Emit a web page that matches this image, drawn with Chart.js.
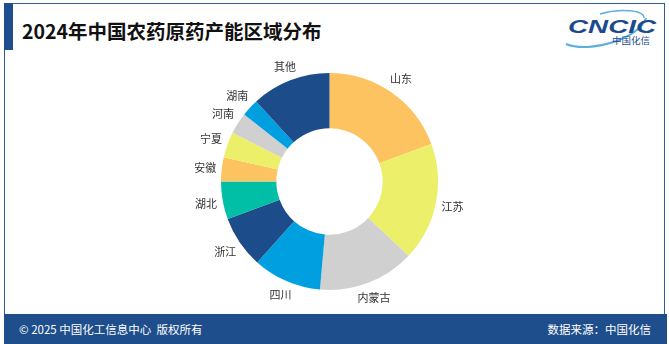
<!DOCTYPE html>
<html>
<head>
<meta charset="utf-8">
<script src="https://cdn.jsdelivr.net/npm/chart.js@4"></script>
<style>
    body { margin: 0; background: #fff; font-family: "Noto Sans CJK SC", "Noto Sans", sans-serif; }
    #page { position: relative; width: 669px; height: 344px; overflow: hidden; }
    #frame { position: absolute; left: 4px; top: 3px; width: 659px; height: 320px; border: 1px solid #2d5b9c; border-bottom: none; }
    #bar { position: absolute; left: 4px; top: 3px; width: 9px; height: 47px; background: #1f4e8c; }
    #title { position: absolute; left: 22px; top: 16px; font-size: 19.5px; font-weight: bold; color: #111; line-height: 29px; white-space: nowrap; }
    #logo { position: absolute; left: 560px; top: 8px; width: 100px; height: 42px; }
    #footer { position: absolute; left: 4px; top: 314px; width: 663px; height: 30px; background: #1f4e8c; color: #fff; font-size: 11.5px; }
    #footer .left { position: absolute; left: 15px; top: 7px; }
    #footer .right { position: absolute; right: 16px; top: 7px; }
    #chartBox { position: absolute; left: 0; top: 0; width: 669px; height: 344px; }
</style>
</head>
<body>
<div id="page">
    <div id="frame"></div>
    <div id="bar"></div>
    <div id="title">2024年中国农药原药产能区域分布</div>
    <svg id="logo" viewBox="0 0 100 42">
        <path d="M6 36 C 30 46, 80 30, 86 10" fill="none" stroke="#5aaee0" stroke-width="2"/>
        <path d="M40 6 C 60 0, 84 2, 84 10" fill="none" stroke="#5aaee0" stroke-width="1.5"/>
        <text x="8" y="25" font-family="Liberation Sans, sans-serif" font-size="19" font-weight="bold" font-style="italic" fill="#1b4b8b" textLength="88" lengthAdjust="spacingAndGlyphs">CNCIC</text>
        <text x="52" y="36" font-family="Noto Sans CJK SC" font-size="9" fill="#1b4b8b" textLength="38" lengthAdjust="spacingAndGlyphs">中国化信</text>
    </svg>
    <div id="footer">
        <span class="left">© 2025 中国化工信息中心&nbsp; 版权所有</span>
        <span class="right">数据来源：中国化信</span>
    </div>
    <div id="chartBox"><canvas id="regionChart"></canvas></div>
</div>
<script>
// regional share of pesticide technical capacity, %
var regions = ['山东', '江苏', '内蒙古', '四川', '浙江', '湖北', '安徽', '宁夏', '河南', '湖南', '其他'];
var shares = [19.4, 17.6, 14.4, 10.2, 7.8, 5.6, 3.6, 3.8, 3.2, 2.6, 11.8];
var sliceColors = ['#FDC361', '#ECEF6A', '#D0D0D0', '#009FDF', '#1D4C8A', '#00BFA6',
                   '#FDC361', '#ECEF6A', '#D0D0D0', '#009FDF', '#1D4C8A'];

var outsideLabels = {
    id: 'outsideLabels',
    afterDatasetsDraw: function (chart) {
        var ctx = chart.ctx;
        var meta = chart.getDatasetMeta(0);
        ctx.save();
        ctx.font = '11px "Noto Sans CJK SC"';
        ctx.fillStyle = '#333';
        ctx.textAlign = 'center';
        ctx.textBaseline = 'middle';
        meta.data.forEach(function (arc, i) {
            var mid = (arc.startAngle + arc.endAngle) / 2;
            var c = Math.cos(mid), s = Math.sin(mid);
            var halfW = ctx.measureText(regions[i]).width / 2;
            var r = arc.outerRadius + 5 + halfW * Math.abs(c) + 6 * Math.abs(s);
            ctx.fillText(regions[i], arc.x + r * c, arc.y + r * s);
        });
        ctx.restore();
    }
};

document.addEventListener('DOMContentLoaded', function () {
    var ctx = document.getElementById('regionChart').getContext('2d');
    new Chart(ctx, {
        type: 'doughnut',
        data: {
            labels: regions,
            datasets: [{
                data: shares,
                backgroundColor: sliceColors,
                borderWidth: 0
            }]
        },
        options: {
            responsive: true,
            maintainAspectRatio: false,
            animation: false,
            cutout: '49%',
            layout: { padding: { left: 221, right: 231, top: 73, bottom: 54 } },
            plugins: {
                legend: { display: false },
                tooltip: { enabled: false }
            }
        },
        plugins: [outsideLabels]
    });
});
</script>
</body>
</html>
